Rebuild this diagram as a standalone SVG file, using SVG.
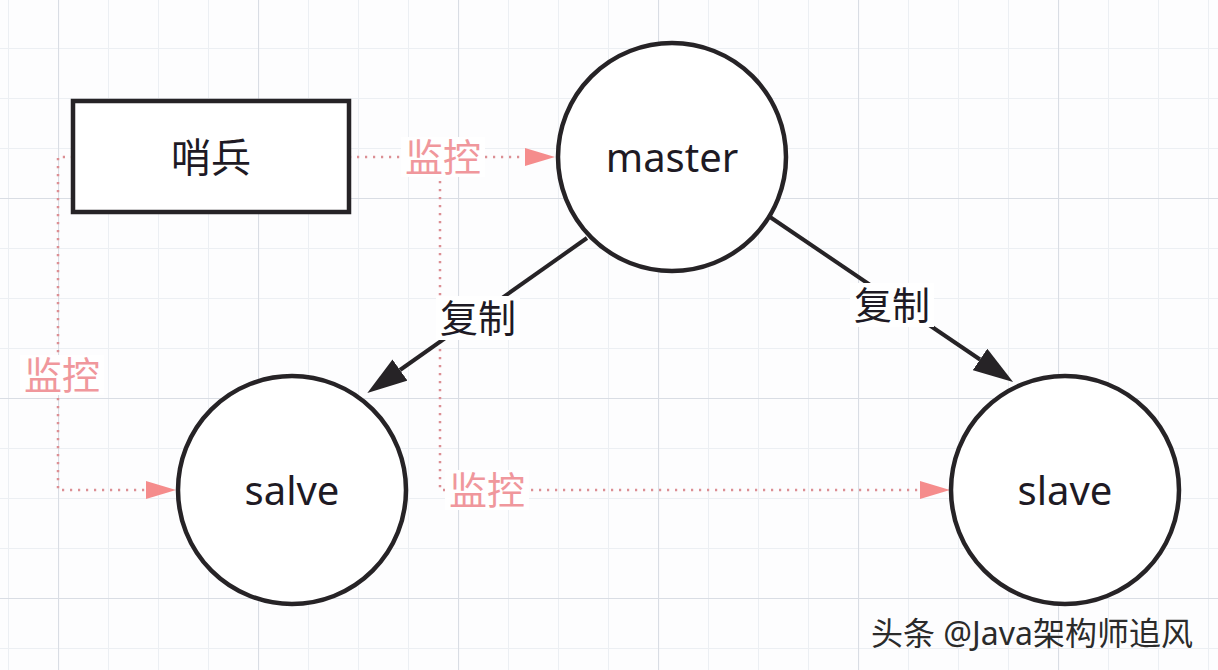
<svg xmlns="http://www.w3.org/2000/svg" width="1218" height="670" viewBox="0 0 1218 670">
  <defs>
    <pattern id="minor" patternUnits="userSpaceOnUse" x="8" y="-2" width="50" height="50">
      <path d="M0 0.5 H50 M0.5 0 V50" stroke="#eceff3" stroke-width="1" fill="none"/>
    </pattern>
    <pattern id="major" patternUnits="userSpaceOnUse" x="58" y="198" width="200" height="200">
      <path d="M0 0.5 H200 M0.5 0 V200" stroke="#d9dde4" stroke-width="1.2" fill="none"/>
    </pattern>
    <marker id="blackArrow" viewBox="0 0 40 26" refX="0" refY="13" markerWidth="40" markerHeight="26" markerUnits="userSpaceOnUse" orient="auto">
      <path d="M0,0 L40,13 L0,26 Z" fill="#262326"/>
    </marker>
    <marker id="pinkArrow" viewBox="0 0 30 18" refX="0" refY="9" markerWidth="30" markerHeight="18" markerUnits="userSpaceOnUse" orient="auto">
      <path d="M0,0 L30,9 L0,18 Z" fill="#f58c8c"/>
    </marker>
  </defs>
  <style>
    .node { fill: #ffffff; stroke: #262326; stroke-width: 4.5; }
    .ntext { font-family: "Noto Sans", "Noto Sans CJK SC", sans-serif; font-size: 40px; fill: #1e1a24; text-anchor: middle; }
    .cjk { font-family: "Noto Sans CJK SC", "Noto Sans", sans-serif; }
    .solid { stroke: #262326; stroke-width: 4; fill: none; marker-end: url(#blackArrow); }
    .dotted { stroke: #dc8f94; stroke-width: 2.5; stroke-dasharray: 2.2 5.8; fill: none; marker-end: url(#pinkArrow); }
    .lbg { fill: #ffffff; }
    .plabel { font-family: "Noto Sans CJK SC", sans-serif; font-size: 38px; fill: #f0979c; text-anchor: middle; }
    .blabel { font-family: "Noto Sans CJK SC", sans-serif; font-size: 38px; fill: #1e1a24; text-anchor: middle; }
  </style>

  <rect x="0" y="0" width="1218" height="670" fill="#fdfdfe"/>
  <rect x="0" y="0" width="1218" height="670" fill="url(#minor)"/>
  <rect x="0" y="0" width="1218" height="670" fill="url(#major)"/>

  <g id="connectors">
    <path class="dotted" d="M349,157 H525"/>
    <path class="dotted" d="M73,157 H58 V490 H146"/>
    <path class="dotted" d="M440,157 V490 H920"/>
    <path class="solid" d="M587,238 L400,370"/>
    <path class="solid" d="M770,217 L980,359.5"/>

    <rect class="lbg" x="401" y="137" width="84" height="40"/>
    <text class="plabel" x="443" y="171">监控</text>
    <rect class="lbg" x="20" y="355" width="84" height="40"/>
    <text class="plabel" x="62" y="389">监控</text>
    <rect class="lbg" x="445" y="470" width="84" height="40"/>
    <text class="plabel" x="487" y="504">监控</text>

    <rect class="lbg" x="436" y="296" width="84" height="44"/>
    <text class="blabel" x="478" y="332">复制</text>
    <rect class="lbg" x="850" y="283" width="84" height="44"/>
    <text class="blabel" x="892" y="319">复制</text>
  </g>

  <g id="node-sentinel">
    <rect class="node" x="73" y="101" width="276" height="111"/>
    <text class="ntext cjk" x="211" y="172">哨兵</text>
  </g>
  <g id="node-master">
    <circle class="node" cx="672" cy="157" r="114"/>
    <text class="ntext" x="672" y="172">master</text>
  </g>
  <g id="node-salve">
    <circle class="node" cx="292" cy="490" r="114"/>
    <text class="ntext" x="292" y="505">salve</text>
  </g>
  <g id="node-slave">
    <circle class="node" cx="1065" cy="490" r="114"/>
    <text class="ntext" x="1065" y="505">slave</text>
  </g>

  <g id="watermark">
    <text x="1032" y="645" font-family="Noto Sans, Noto Sans CJK SC, sans-serif" font-size="32" fill="#2b2b2b" text-anchor="middle" stroke="#ffffff" stroke-width="0.6" paint-order="stroke">头条 @Java架构师追风</text>
  </g>
</svg>
